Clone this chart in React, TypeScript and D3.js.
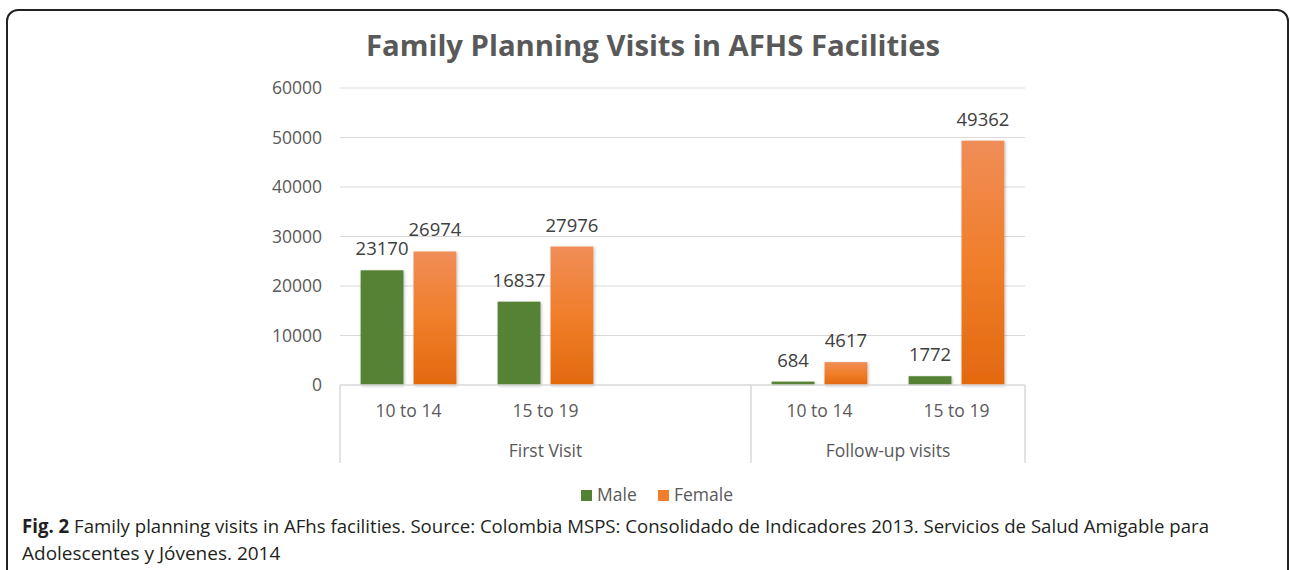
import React from "react";
import * as d3 from "d3";

const groups = ["First Visit", "Follow-up visits"];
const slotGroup = [0, 0, 0, 1, 1];
const slotLabels = ["10 to 14", "15 to 19", "", "10 to 14", "15 to 19"];
const series = ["Male", "Female"];
const maleValues: (number | null)[] = [23170, 16837, null, 684, 1772];
const femaleValues: (number | null)[] = [26974, 27976, null, 4617, 49362];
const yTicks = [0, 10000, 20000, 30000, 40000, 50000, 60000];
const title = "Family Planning Visits in AFHS Facilities";
const captionBold = "Fig. 2";
const captionLine1 =
  " Family planning visits in AFhs facilities. Source: Colombia MSPS: Consolidado de Indicadores 2013. Servicios de Salud Amigable para";
const captionLine2 = "Adolescentes y Jóvenes. 2014";

const W = 1290;
const H = 570;
const plotLeft = 340;
const plotRight = 1025;
const plotTop = 88;
const plotBottom = 385;
const FONT = "'Open Sans', 'Noto Sans', sans-serif";
const GREEN = "#548235";

export default function App() {
  const slots = slotLabels.map((_, i) => String(i));
  const x = d3.scaleBand<string>().domain(slots).range([plotLeft, plotRight]).padding(0);
  const xs = d3
    .scaleBand<string>()
    .domain(series)
    .range([0, x.bandwidth()])
    .paddingInner(0.19)
    .paddingOuter(0.39);
  const y = d3.scaleLinear().domain([0, 60000]).range([plotBottom, plotTop]);
  const valuesBySeries = [maleValues, femaleValues];

  const groupSpans = groups.map((g, gi) => {
    const idx = slotGroup.map((sg, i) => (sg === gi ? i : -1)).filter((i) => i >= 0);
    const x0 = x(String(idx[0]))!;
    const x1 = x(String(idx[idx.length - 1]))! + x.bandwidth();
    return { g, x0, x1 };
  });
  const dividers = Array.from(new Set(groupSpans.flatMap((s) => [s.x0, s.x1])));

  return (
    <svg
      width={W}
      height={H}
      style={{ position: "absolute", left: 0, top: 0, background: "#fff" }}
      fontFamily={FONT}
    >
      <defs>
        <linearGradient id="orangeGrad" x1="0" y1="0" x2="0" y2="1">
          <stop offset="0%" stopColor="#F08D57" />
          <stop offset="50%" stopColor="#F07E2A" />
          <stop offset="100%" stopColor="#E3690F" />
        </linearGradient>
        <filter id="shadow" x="-20%" y="-5%" width="140%" height="115%">
          <feDropShadow dx="1" dy="1" stdDeviation="1.5" floodColor="#000" floodOpacity="0.25" />
        </filter>
      </defs>
      <rect x={0} y={0} width={W} height={H} fill="#fff" />
      <rect x={7} y={10} width={1281} height={700} rx={11} ry={11} fill="none" stroke="#222" strokeWidth={2} />

      <text
        x={653}
        y={56}
        textAnchor="middle"
        fontSize={28}
        fontWeight={700}
        fill="#595959"
        textLength={574}
        lengthAdjust="spacingAndGlyphs"
      >
        {title}
      </text>

      {yTicks.map((t) =>
        t === 0 ? null : (
          <line key={t} x1={plotLeft} x2={plotRight} y1={y(t)} y2={y(t)} stroke="#d9d9d9" strokeWidth={1} />
        )
      )}
      {yTicks.map((t) => (
        <text key={"l" + t} x={322} y={y(t) + 6} textAnchor="end" fontSize={17.5} fill="#595959">
          {t}
        </text>
      ))}

      {valuesBySeries.map((vals, si) =>
        vals.map((v, i) =>
          v == null ? null : (
            <rect
              key={si + "-" + i}
              x={x(String(i))! + xs(series[si])!}
              y={y(v)}
              width={xs.bandwidth()}
              height={plotBottom - y(v)}
              fill={si === 0 ? GREEN : "url(#orangeGrad)"}
              filter="url(#shadow)"
            />
          )
        )
      )}
      {valuesBySeries.map((vals, si) =>
        vals.map((v, i) =>
          v == null ? null : (
            <text
              key={"d" + si + "-" + i}
              x={x(String(i))! + xs(series[si])! + xs.bandwidth() / 2}
              y={y(v) - 15}
              textAnchor="middle"
              fontSize={18.5}
              fill="#404040"
            >
              {v}
            </text>
          )
        )
      )}

      <line x1={plotLeft} x2={plotRight} y1={plotBottom} y2={plotBottom} stroke="#d9d9d9" strokeWidth={1.5} />
      {dividers.map((d) => (
        <line key={"dv" + d} x1={d} x2={d} y1={plotBottom} y2={463} stroke="#d9d9d9" strokeWidth={1.5} />
      ))}
      {slotLabels.map((l, i) =>
        l ? (
          <text
            key={"s" + i}
            x={x(String(i))! + x.bandwidth() / 2}
            y={417}
            textAnchor="middle"
            fontSize={17.5}
            fill="#595959"
          >
            {l}
          </text>
        ) : null
      )}
      {groupSpans.map((s) => (
        <text key={s.g} x={(s.x0 + s.x1) / 2} y={457} textAnchor="middle" fontSize={17.5} fill="#595959">
          {s.g}
        </text>
      ))}

      <rect x={581} y={490} width={11} height={11} fill={GREEN} />
      <text x={597} y={500.5} fontSize={17.5} fill="#595959">
        Male
      </text>
      <rect x={658} y={490} width={11} height={11} fill="#F07E2A" />
      <text x={674} y={500.5} fontSize={17.5} fill="#595959">
        Female
      </text>

      <text x={22} y={533} fontSize={19} fill="#231f20" textLength={1187} lengthAdjust="spacingAndGlyphs">
        <tspan fontWeight={700}>{captionBold}</tspan>
        <tspan>{captionLine1}</tspan>
      </text>
      <text x={22} y={560} fontSize={19} fill="#231f20">
        {captionLine2}
      </text>
    </svg>
  );
}
